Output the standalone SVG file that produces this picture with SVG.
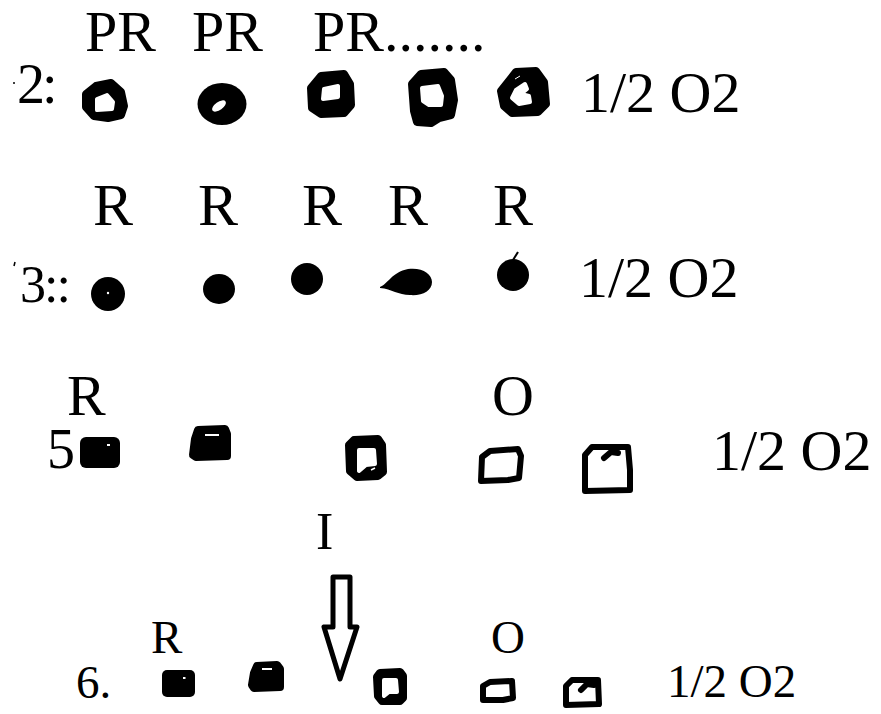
<svg xmlns="http://www.w3.org/2000/svg" width="881" height="714" viewBox="0 0 881 714">
<style>
text{font-family:"Liberation Serif","DejaVu Serif","Times New Roman",serif;fill:#000}
.fill{fill:#000}
.blob{fill:#000;stroke:#000;stroke-width:8;stroke-linejoin:round}
.hl{fill:#fff;stroke:#fff;stroke-width:4;stroke-linejoin:round}
.ol{fill:none;stroke:#000;stroke-width:6;stroke-linejoin:round;stroke-linecap:round}
.hole{fill:#fff}
</style>
<rect width="881" height="714" fill="#fff"/>

<g id="row2">
  <circle cx="14" cy="83" r="1" class="fill"/>
  <text font-family="Liberation Serif, DejaVu Serif, serif" x="17" y="103" font-size="56" letter-spacing="-3">2:</text>
  <text font-family="Liberation Serif, DejaVu Serif, serif" x="85" y="51" font-size="58">PR</text>
  <text font-family="Liberation Serif, DejaVu Serif, serif" x="192" y="51" font-size="58">PR</text>
  <text font-family="Liberation Serif, DejaVu Serif, serif" x="313" y="51" font-size="58">PR.......</text>
  <g id="r2n1"><path class="blob" d="M96 86 L111 83 L121 92 L124 106 L121 115 L108 118 L94 116 L86 107 L86 94 Z"/><path class="hl" d="M97 99 L107 95 L113 102 L112 109 L97 110 Z"/></g>
  <g id="r2n2"><ellipse cx="222" cy="104" rx="24.5" ry="21" class="fill"/><ellipse cx="219" cy="106" rx="8" ry="4" transform="rotate(-35 219 106)" class="hole"/></g>
  <g id="r2n3"><path class="blob" d="M321 76 L344 74 L350 84 L351 105 L344 113 L321 114 L312 108 L311 88 Z"/><path class="hl" d="M324 89 L338 86 L338 97 L323 99 Z"/></g>
  <g id="r2n4"><path class="blob" d="M421 74 L444 72 L451 80 L454 100 L451 115 L439 118 L431 123 L417 122 L414 111 L412 84 Z"/><path class="hl" d="M422 88 L438 86 L442 96 L441 105 L429 105 L423 101 Z"/></g>
  <g id="r2n5"><path class="blob" d="M516 72 L536 71 L544 82 L546 104 L538 112 L512 113 L504 106 L501 91 Z"/><path class="hl" d="M512 98 L516 90 L525 84 L527 89 L521 94 L529 96 L530 102 L519 104 Z"/><path d="M515 79 L520 76" stroke="#fff" stroke-width="1"/></g>
  <text font-family="Liberation Serif, DejaVu Serif, serif" x="581" y="112" font-size="58">1/2 O2</text>
</g>

<g id="row3">
  <path d="M14 266 L15 262" stroke="#000" stroke-width="1.5"/>
  <text font-family="Liberation Serif, DejaVu Serif, serif" x="20" y="302" font-size="52" letter-spacing="-2">3::</text>
  <text font-family="Liberation Serif, DejaVu Serif, serif" x="93" y="225" font-size="60">R</text>
  <text font-family="Liberation Serif, DejaVu Serif, serif" x="198" y="225" font-size="60">R</text>
  <text font-family="Liberation Serif, DejaVu Serif, serif" x="302" y="225" font-size="60">R</text>
  <text font-family="Liberation Serif, DejaVu Serif, serif" x="388" y="225" font-size="60">R</text>
  <text font-family="Liberation Serif, DejaVu Serif, serif" x="493" y="225" font-size="60">R</text>
  <g id="r3n1"><circle cx="108" cy="294" r="17" class="fill"/><circle cx="108" cy="293" r="1.2" class="hole"/></g>
  <g id="r3n2"><ellipse cx="219" cy="289" rx="16" ry="15" class="fill"/></g>
  <g id="r3n3"><circle cx="307" cy="279" r="16" class="fill"/></g>
  <g id="r3n4"><path class="fill" d="M380 287 C388 284 392 272 408 269 C422 267 432 274 432 282 C432 291 422 296 410 295 C398 295 392 289 380 288 Z"/></g>
  <g id="r3n5"><circle cx="513" cy="275" r="16" class="fill"/><path d="M513 260 L518 252" stroke="#000" stroke-width="2"/></g>
  <text font-family="Liberation Serif, DejaVu Serif, serif" x="579" y="297" font-size="58">1/2 O2</text>
</g>

<g id="row5">
  <text font-family="Liberation Serif, DejaVu Serif, serif" x="67" y="415" font-size="58">R</text>
  <text font-family="Liberation Serif, DejaVu Serif, serif" x="47" y="468" font-size="56">5</text>
  <text font-family="Liberation Serif, DejaVu Serif, serif" x="492" y="415" font-size="58">O</text>
  <g id="r5n1"><rect x="80" y="437" width="40" height="31" rx="6" class="fill"/><rect x="107" y="444" width="3" height="2" class="hole"/></g>
  <g id="r5n2"><path class="blob" stroke-width="5" d="M198 430 L225 429 L227 434 L227 456 L196 457 L193 455 L195 439 Z"/><rect x="205" y="434" width="14" height="2" class="hole"/></g>
  <g id="r5n3"><path class="blob" d="M354 440 L378 439 L382 445 L383 472 L378 476 L357 477 L350 471 L349 445 Z"/><path class="hl" d="M359 450 L374 450 L375 464 L366 465 L359 471 Z"/><path d="M371 470 L375 468" stroke="#fff" stroke-width="1.5"/></g>
  <g id="r5n4"><path class="ol" d="M482 457 L490 451 L518 449 L521 456 L519 478 L508 480 L481 481 Z"/></g>
  <g id="r5n5"><path class="ol" d="M585 455 L592 447 L628 447 L630 470 L630 490 L585 491 Z"/><path class="ol" stroke-width="4" d="M604 458 L611 452 L618 453"/></g>
  <text font-family="Liberation Serif, DejaVu Serif, serif" x="712" y="470" font-size="58">1/2 O2</text>
</g>

<g id="row6">
  <text font-family="Liberation Serif, DejaVu Serif, serif" x="316" y="549" font-size="52">I</text>
  <text font-family="Liberation Serif, DejaVu Serif, serif" x="151" y="653" font-size="47">R</text>
  <text font-family="Liberation Serif, DejaVu Serif, serif" x="491" y="653" font-size="47">O</text>
  <text font-family="Liberation Serif, DejaVu Serif, serif" x="76" y="698" font-size="47">6.</text>
  <g id="r6n1"><rect x="162" y="670" width="33" height="27" rx="5" class="fill"/><rect x="183" y="677" width="2.5" height="2" class="hole"/></g>
  <g id="r6n2"><path class="blob" stroke-width="4" d="M257 666 L277 665 L280 669 L280 687 L254 688 L252 685 L254 673 Z"/><rect x="262" y="668" width="10" height="2" class="hole"/></g>
  <g id="r6n3"><path class="blob" d="M380 673 L400 672 L403 676 L403 698 L400 701 L382 701 L378 696 L377 677 Z"/><path class="hl" d="M384 680 L396 680 L397 692 L389 692 L384 696 Z"/></g>
  <g id="r6n4"><path class="ol" stroke-width="5" d="M483 686 L490 682 L512 681 L513 698 L503 700 L483 700 Z"/></g>
  <g id="r6n5"><path class="ol" stroke-width="5" d="M566 686 L572 680 L598 680 L599 704 L566 705 Z"/><path class="ol" stroke-width="3.5" d="M581 690 L587 684 L594 685"/></g>
  <text font-family="Liberation Serif, DejaVu Serif, serif" x="667" y="697" font-size="47">1/2 O2</text>
</g>

<g id="connectors">
  <path d="M333 577 L350 577 L350 627 L357 627 L340 679 L324 627 L333 627 Z" fill="#fff" stroke="#000" stroke-width="5" stroke-linejoin="round"/>
</g>
</svg>
